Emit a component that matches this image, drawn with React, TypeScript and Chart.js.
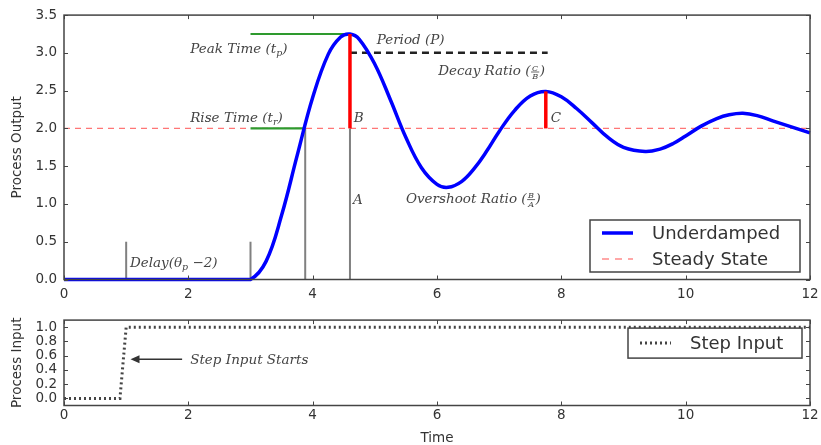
import React, { useEffect, useRef } from "react";
import { Chart, registerables } from "chart.js";

Chart.register(...registerables);

// ---------- data ----------
const timeValues = [
  0, 2.75, 3, 3.25, 3.5, 3.75, 4.0, 4.25, 4.45, 4.6, 4.75, 5.0, 5.25, 5.5, 5.75, 6.0, 6.18, 6.4,
  6.6, 6.8, 7.0, 7.25, 7.5, 7.75, 8.0, 8.25, 8.5, 8.75, 9.0, 9.35, 9.6, 9.8, 10.0, 10.25, 10.5,
  10.7, 10.92, 11.15, 11.4, 11.7, 12.0,
];
const processOutput = [
  0, 0, 0, 0.24, 0.85, 1.64, 2.41, 2.98, 3.21, 3.25, 3.18, 2.85, 2.38, 1.88, 1.48, 1.26, 1.22,
  1.3, 1.47, 1.7, 1.96, 2.24, 2.43, 2.49, 2.42, 2.26, 2.07, 1.88, 1.75, 1.695, 1.73, 1.8, 1.9,
  2.03, 2.13, 2.18, 2.2, 2.17, 2.1, 2.02, 1.94,
];
const steadyTime = [0, 12];
const steadyLevel = [2, 2];
const stepTime = [0, 0.9, 1.0, 12];
const stepInput = [0, 0, 1, 1];

const xTickValues = [0, 2, 4, 6, 8, 10, 12];
const outputTickValues = [0, 0.5, 1, 1.5, 2, 2.5, 3, 3.5];
const inputTickValues = [0, 0.2, 0.4, 0.6, 0.8, 1.0];

// annotation segments [x0, y0, x1, y1] in data units
const redSegments = [
  [4.6, 2, 4.6, 3.25],
  [7.75, 2, 7.75, 2.49],
];
const greenSegments = [
  [3, 3.25, 4.6, 3.25],
  [3, 2, 3.88, 2],
];
const graySegments = [
  [1, 0, 1, 0.5],
  [3, 0, 3, 0.5],
  [3.88, 0, 3.88, 2],
  [4.6, 0, 4.6, 2],
];
const periodSegment = [4.6, 3.0, 7.78, 3.0];

// annotation texts [x, y (vertical centre), text]
const outputNotes: [number, number, string][] = [
  [2.03, 3.06, "Peak Time (t_{p})"],
  [2.03, 2.15, "Rise Time (t_{r})"],
  [5.03, 3.17, "Period (P)"],
  [6.02, 2.76, "Decay Ratio (\\frac{C}{B})"],
  [4.66, 2.15, "B"],
  [7.83, 2.15, "C"],
  [4.65, 1.06, "A"],
  [5.5, 1.07, "Overshoot Ratio (\\frac{B}{A})"],
  [1.06, 0.23, "Delay(θ_{p} −2)"],
];
const inputNotes: [number, number, string][] = [[2.03, 0.55, "Step Input Starts"]];
const inputArrow = [1.9, 0.55, 1.07, 0.55];

// ---------- helpers ----------
const SANS = "'DejaVu Sans', sans-serif";
const SERIF = "'DejaVu Serif', serif";
const AXIS_COLOR = "#444";
const TEXT_COLOR = "#333";

function seg(s: number[], color: string, width: number, dash: number[] = []) {
  return {
    label: "",
    data: [
      { x: s[0], y: s[1] },
      { x: s[2], y: s[3] },
    ],
    borderColor: color,
    backgroundColor: color,
    borderWidth: width,
    borderDash: dash,
    pointRadius: 0,
    tension: 0,
    fill: false,
    clip: false as const,
  };
}

function drawMath(ctx: CanvasRenderingContext2D, str: string, x: number, y: number, size: number) {
  const tokens = str.split(/(_\{[^}]*\}|\\frac\{[^}]*\}\{[^}]*\})/).filter((s) => s.length);
  let cx = x;
  const base = y + size * 0.33;
  ctx.fillStyle = "#444";
  ctx.textAlign = "left";
  ctx.textBaseline = "alphabetic";
  for (const tk of tokens) {
    if (tk.startsWith("_{")) {
      const t = tk.slice(2, -1);
      ctx.font = `italic ${size * 0.7}px ${SERIF}`;
      ctx.fillText(t, cx, base + size * 0.22);
      cx += ctx.measureText(t).width;
    } else if (tk.startsWith("\\frac")) {
      const m = tk.match(/\\frac\{([^}]*)\}\{([^}]*)\}/)!;
      const num = m[1];
      const den = m[2];
      ctx.font = `italic ${size * 0.6}px ${SERIF}`;
      const wn = ctx.measureText(num).width;
      const wd = ctx.measureText(den).width;
      const w = Math.max(wn, wd) + 3;
      const mid = y + 1;
      ctx.fillText(num, cx + (w - wn) / 2, mid - 1.5);
      ctx.fillText(den, cx + (w - wd) / 2, mid + size * 0.55);
      ctx.fillRect(cx + 0.5, mid - 0.4, w - 1, 0.8);
      cx += w;
    } else {
      ctx.font = `italic ${size}px ${SERIF}`;
      ctx.fillText(tk, cx, base);
      cx += ctx.measureText(tk).width;
    }
  }
}

type LegendEntry = { label: string; color: string; width: number; dash: number[] };

function makeFramePlugin(opts: {
  notes: [number, number, string][];
  arrow?: number[];
  legend: LegendEntry[];
  legendBox: { w: number; h: number; right: number; top?: number; bottom?: number };
}) {
  return {
    id: "frame",
    afterDraw(chart: any) {
      const ctx: CanvasRenderingContext2D = chart.ctx;
      const a = chart.chartArea;
      const xs = chart.scales.x;
      const ys = chart.scales.y;
      ctx.save();
      // inward tick marks on all four sides
      ctx.strokeStyle = AXIS_COLOR;
      ctx.lineWidth = 1;
      ctx.beginPath();
      for (const t of xs.ticks) {
        const px = Math.round(xs.getPixelForValue(t.value)) + 0.5;
        ctx.moveTo(px, a.bottom);
        ctx.lineTo(px, a.bottom - 4);
        ctx.moveTo(px, a.top);
        ctx.lineTo(px, a.top + 4);
      }
      for (const t of ys.ticks) {
        const py = Math.round(ys.getPixelForValue(t.value)) + 0.5;
        ctx.moveTo(a.left, py);
        ctx.lineTo(a.left + 4, py);
        ctx.moveTo(a.right, py);
        ctx.lineTo(a.right - 4, py);
      }
      ctx.stroke();
      // frame
      ctx.lineWidth = 1.5;
      ctx.strokeRect(a.left, a.top, a.right - a.left, a.bottom - a.top);

      // notes
      for (const [x, y, s] of opts.notes) {
        drawMath(ctx, s, xs.getPixelForValue(x), ys.getPixelForValue(y), 13.5);
      }
      // arrow
      if (opts.arrow) {
        const [x0, y0, x1, y1] = opts.arrow;
        const p0 = [xs.getPixelForValue(x0), ys.getPixelForValue(y0)];
        const p1 = [xs.getPixelForValue(x1), ys.getPixelForValue(y1)];
        ctx.strokeStyle = "#333";
        ctx.fillStyle = "#333";
        ctx.lineWidth = 1.5;
        ctx.beginPath();
        ctx.moveTo(p0[0], p0[1]);
        ctx.lineTo(p1[0] + 7, p1[1]);
        ctx.stroke();
        ctx.beginPath();
        ctx.moveTo(p1[0], p1[1]);
        ctx.lineTo(p1[0] + 9, p1[1] - 4);
        ctx.lineTo(p1[0] + 9, p1[1] + 4);
        ctx.closePath();
        ctx.fill();
      }
      // legend
      const lb = opts.legendBox;
      const bx = a.right - lb.right - lb.w;
      const by = lb.top !== undefined ? a.top + lb.top : a.bottom - (lb.bottom || 0) - lb.h;
      ctx.fillStyle = "#fff";
      ctx.fillRect(bx, by, lb.w, lb.h);
      ctx.strokeStyle = AXIS_COLOR;
      ctx.lineWidth = 1.5;
      ctx.strokeRect(bx, by, lb.w, lb.h);
      const rowH = lb.h / opts.legend.length;
      opts.legend.forEach((e, i) => {
        const cy = by + rowH * (i + 0.5);
        ctx.strokeStyle = e.color;
        ctx.lineWidth = e.width;
        ctx.setLineDash(e.dash);
        ctx.beginPath();
        ctx.moveTo(bx + 12, cy);
        ctx.lineTo(bx + 43, cy);
        ctx.stroke();
        ctx.setLineDash([]);
        ctx.fillStyle = TEXT_COLOR;
        ctx.font = `18px ${SANS}`;
        ctx.textAlign = "left";
        ctx.textBaseline = "middle";
        ctx.fillText(e.label, bx + 62, cy + 1);
      });
      ctx.restore();
    },
  };
}

function tickFont() {
  return { family: SANS, size: 13.5 };
}

function fixX(height: number) {
  return (s: any) => {
    s.height = height;
    s.paddingLeft = 0;
    s.paddingRight = 0;
  };
}

export default function App() {
  const topRef = useRef<HTMLCanvasElement>(null);
  const botRef = useRef<HTMLCanvasElement>(null);

  useEffect(() => {
    const top = new Chart(topRef.current!, {
      type: "line",
      data: {
        datasets: [
          ...redSegments.map((s) => seg(s, "#ff0000", 3.5)),
          {
            label: "Underdamped",
            data: timeValues.map((t, i) => ({ x: t, y: processOutput[i] })),
            borderColor: "#0000ff",
            backgroundColor: "#0000ff",
            borderWidth: 3.5,
            pointRadius: 0,
            tension: 0.4,
            fill: false,
            clip: false,
          },
          ...greenSegments.map((s) => seg(s, "#2e9a2e", 2.2)),
          ...graySegments.map((s) => seg(s, "#808080", 2)),
          seg(periodSegment, "#222", 2.5, [7, 5]),
          {
            label: "Steady State",
            data: steadyTime.map((t, i) => ({ x: t, y: steadyLevel[i] })),
            borderColor: "rgba(255,60,60,0.7)",
            backgroundColor: "rgba(255,60,60,0.7)",
            borderWidth: 1.3,
            borderDash: [6, 5],
            pointRadius: 0,
            fill: false,
          },
        ] as any,
      },
      options: {
        animation: false,
        responsive: true,
        maintainAspectRatio: false,
        layout: { padding: { top: 14, right: 11, left: 0, bottom: 0 } },
        plugins: { legend: { display: false }, tooltip: { enabled: false } },
        scales: {
          x: {
            type: "linear",
            min: 0,
            max: 12,
            grid: { display: false, drawTicks: false },
            border: { display: false },
            afterBuildTicks: (s: any) => {
              s.ticks = xTickValues.map((v) => ({ value: v }));
            },
            afterFit: fixX(25.5),
            ticks: {
              font: tickFont(),
              color: TEXT_COLOR,
              padding: 7,
              maxRotation: 0,
              autoSkip: false,
              callback: (v: any) => String(v),
            },
          },
          y: {
            type: "linear",
            min: 0,
            max: 3.5,
            grid: { display: false, drawTicks: false },
            border: { display: false },
            afterBuildTicks: (s: any) => {
              s.ticks = outputTickValues.map((v) => ({ value: v }));
            },
            afterFit: (s: any) => {
              s.width = 64;
            },
            ticks: {
              font: tickFont(),
              color: TEXT_COLOR,
              padding: 7,
              autoSkip: false,
              callback: (v: any) => Number(v).toFixed(1),
            },
            title: {
              display: true,
              text: "Process Output",
              font: { family: SANS, size: 13.5 },
              color: TEXT_COLOR,
              padding: { top: 9, bottom: 0 },
            },
          },
        },
      } as any,
      plugins: [
        makeFramePlugin({
          notes: outputNotes,
          legend: [
            { label: "Underdamped", color: "#0000ff", width: 3.5, dash: [] },
            { label: "Steady State", color: "rgba(255,60,60,0.6)", width: 1.5, dash: [7, 6] },
          ],
          legendBox: { w: 210, h: 52, right: 10, bottom: 7.5 },
        }) as any,
      ],
    });

    const bot = new Chart(botRef.current!, {
      type: "line",
      data: {
        datasets: [
          {
            label: "Step Input",
            data: stepTime.map((t, i) => ({ x: t, y: stepInput[i] })),
            borderColor: "#444",
            backgroundColor: "#444",
            borderWidth: 3,
            borderDash: [2, 3],
            pointRadius: 0,
            tension: 0,
            fill: false,
          },
        ] as any,
      },
      options: {
        animation: false,
        responsive: true,
        maintainAspectRatio: false,
        layout: { padding: { top: 11, right: 11, left: 0, bottom: 0 } },
        plugins: { legend: { display: false }, tooltip: { enabled: false } },
        scales: {
          x: {
            type: "linear",
            min: 0,
            max: 12,
            grid: { display: false, drawTicks: false },
            border: { display: false },
            afterBuildTicks: (s: any) => {
              s.ticks = xTickValues.map((v) => ({ value: v }));
            },
            afterFit: fixX(39.5),
            ticks: {
              font: tickFont(),
              color: TEXT_COLOR,
              padding: 2,
              maxRotation: 0,
              autoSkip: false,
              callback: (v: any) => String(v),
            },
            title: {
              display: true,
              text: "Time",
              font: { family: SANS, size: 13.5 },
              color: TEXT_COLOR,
              padding: { top: 0, bottom: -2 },
            },
          },
          y: {
            type: "linear",
            min: -0.1,
            max: 1.1,
            grid: { display: false, drawTicks: false },
            border: { display: false },
            afterBuildTicks: (s: any) => {
              s.ticks = inputTickValues.map((v) => ({ value: v }));
            },
            afterFit: (s: any) => {
              s.width = 64;
            },
            ticks: {
              font: tickFont(),
              color: TEXT_COLOR,
              padding: 7,
              autoSkip: false,
              callback: (v: any) => Number(v).toFixed(1),
            },
            title: {
              display: true,
              text: "Process Input",
              font: { family: SANS, size: 13.5 },
              color: TEXT_COLOR,
              padding: { top: 9, bottom: 0 },
            },
          },
        },
      } as any,
      plugins: [
        makeFramePlugin({
          notes: inputNotes,
          arrow: inputArrow,
          legend: [{ label: "Step Input", color: "#444", width: 3, dash: [2, 3] }],
          legendBox: { w: 174, h: 30, right: 8, top: 8 },
        }) as any,
      ],
    });

    return () => {
      top.destroy();
      bot.destroy();
    };
  }, []);

  return (
    <div style={{ position: "absolute", left: 0, top: 0, width: 821, height: 445, background: "#fff" }}>
      <div style={{ position: "absolute", left: 0, top: 0, width: 821, height: 305 }}>
        <canvas ref={topRef} />
      </div>
      <div style={{ position: "absolute", left: 0, top: 305, width: 821, height: 140 }}>
        <canvas ref={botRef} />
      </div>
    </div>
  );
}
